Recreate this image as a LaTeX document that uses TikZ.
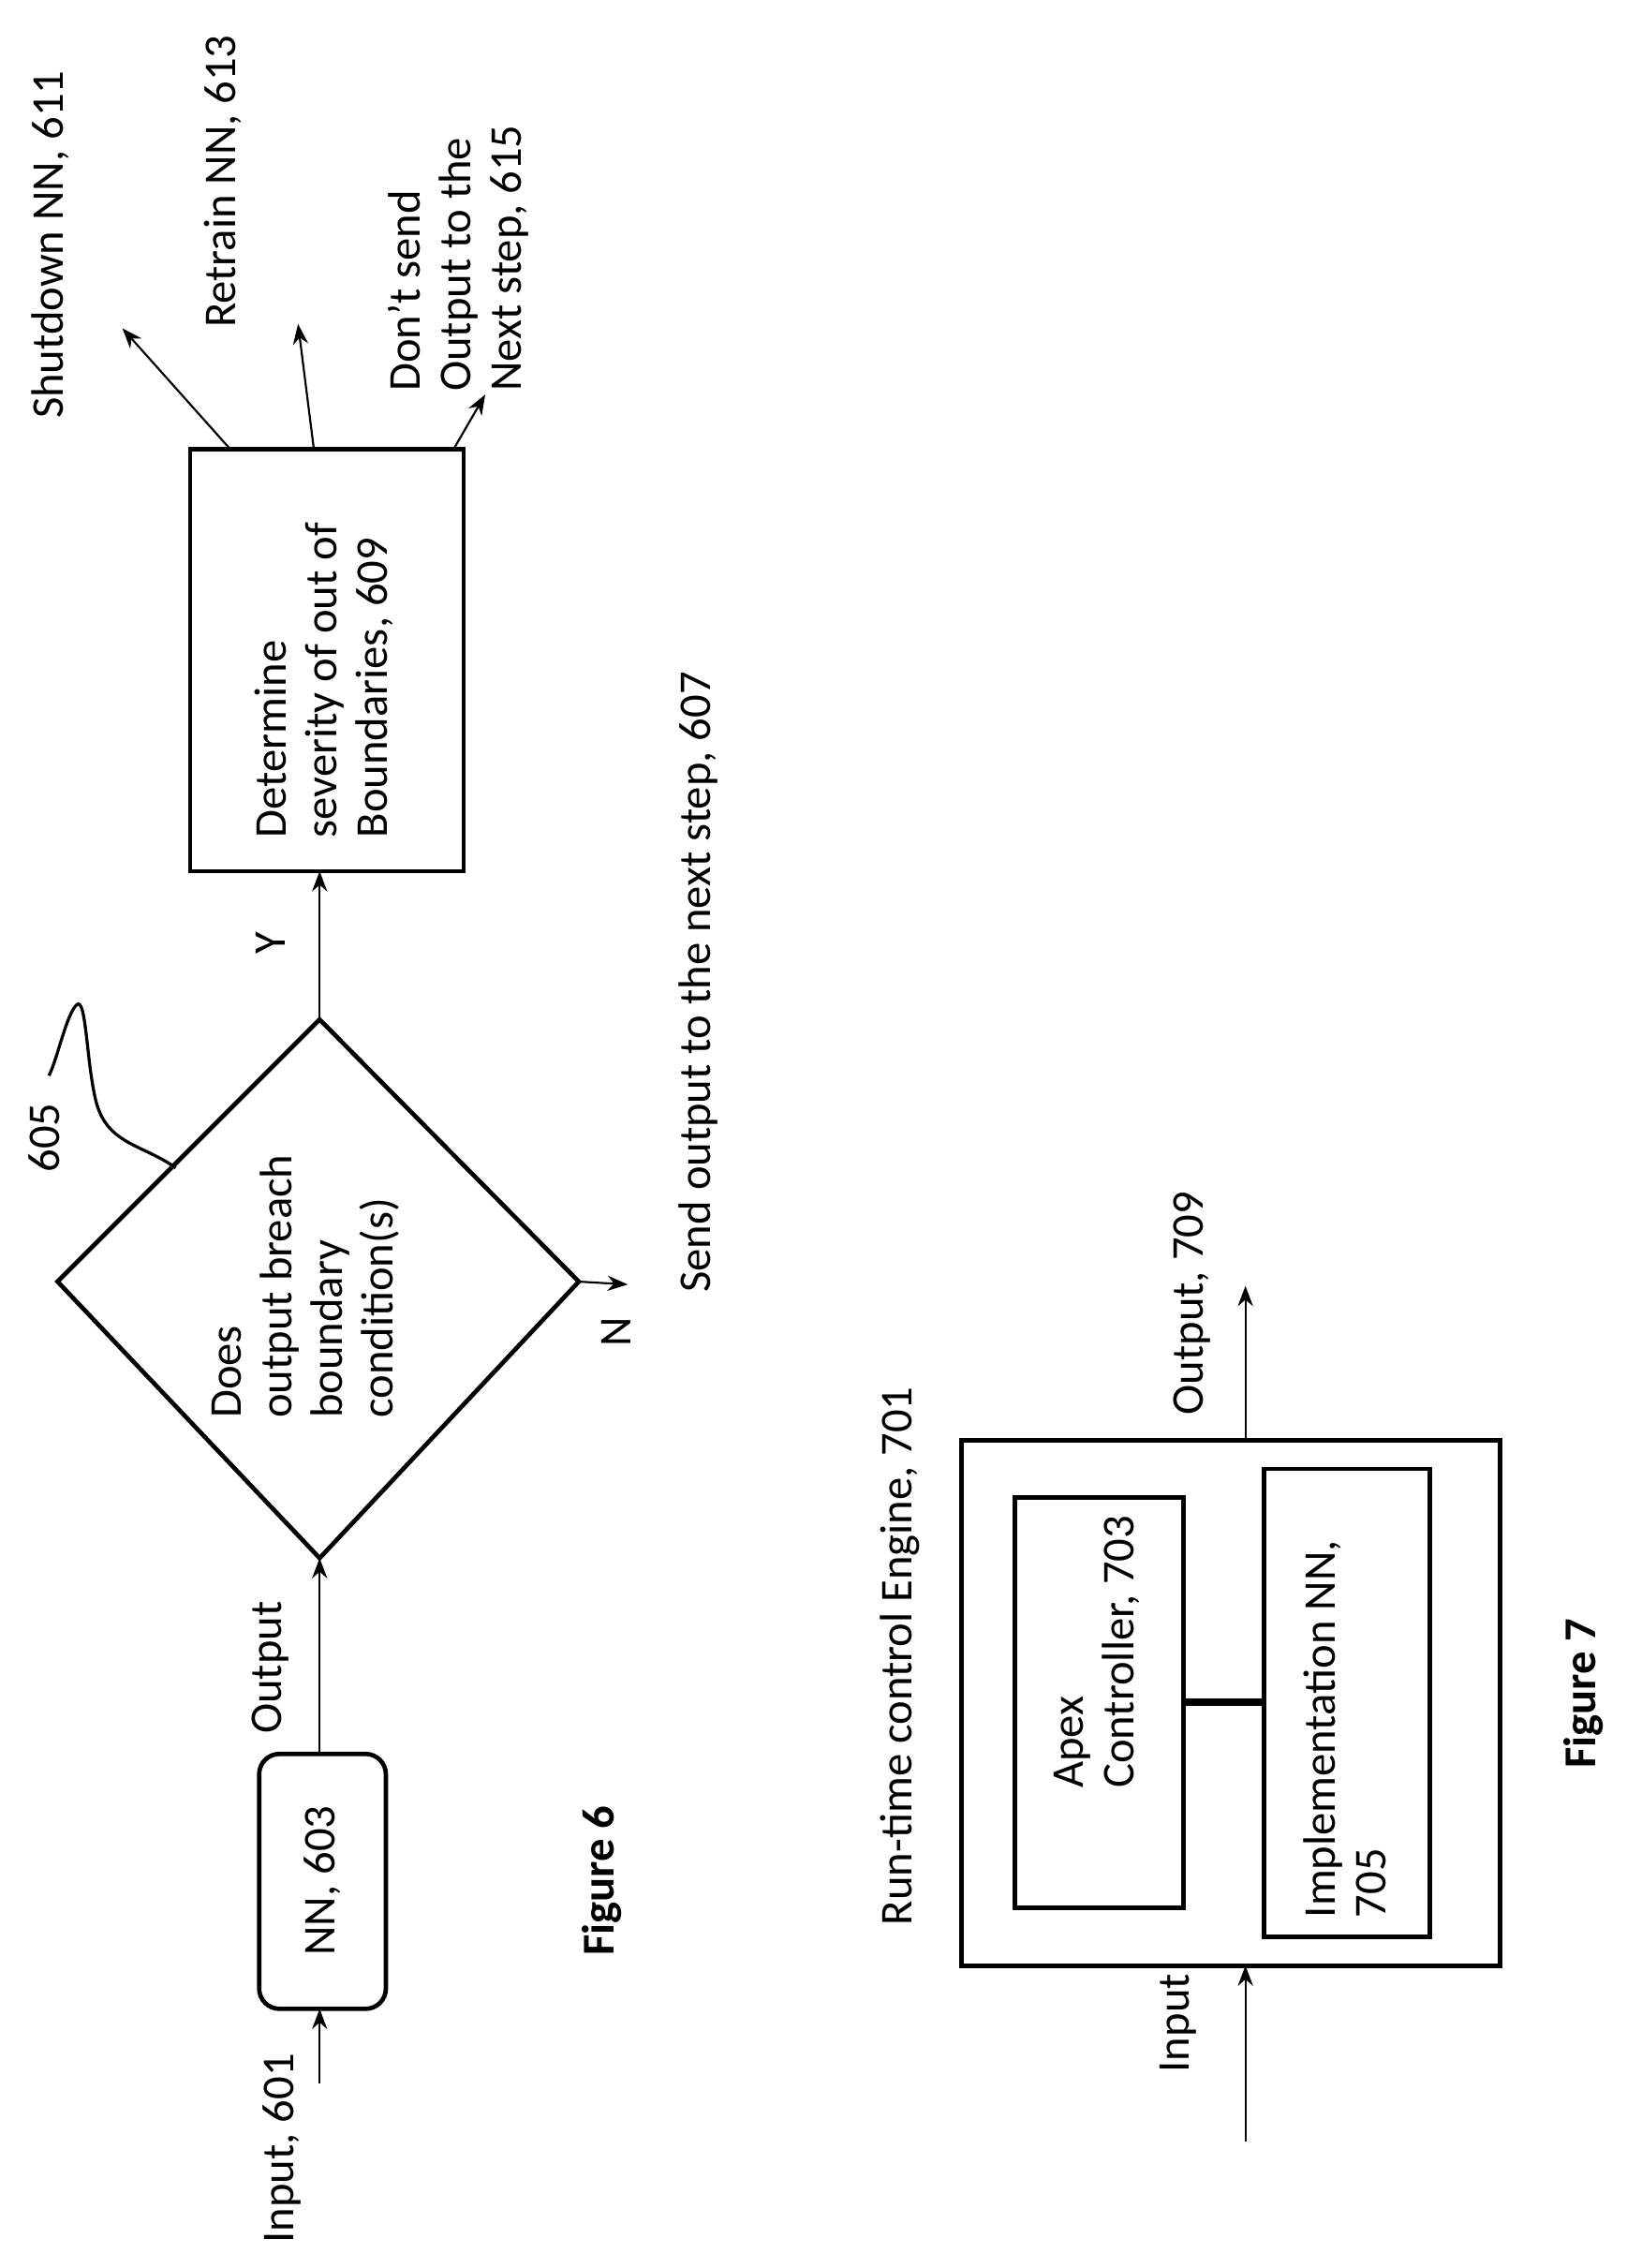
\documentclass[tikz,border=0pt]{standalone}
\usepackage{fontspec}
\setmainfont{Carlito}
\usetikzlibrary{shapes.geometric,arrows.meta}
\begin{document}
\begin{tikzpicture}[x=0.3mm,y=-0.3mm,
  every node/.style={font=\fontsize{27}{30}\selectfont},
  txt/.style={rotate=90,align=center,inner sep=0},
  ltxt/.style={rotate=90,align=left,inner sep=0,anchor=west},
  ln/.style={line width=1.2pt},
  box/.style={line width=2.6pt},
  arr/.style={ln,-{Stealth[length=12pt,width=9pt]}}]
\useasboundingbox (0,0) rectangle (1130,1575);
% Figure 6
\draw[box,rounded corners=12pt] (180,1218) rectangle (268,1395);
\node[txt] (nn) at (224,1306) {NN, 603};
\coordinate (nnb) at (222,1395); \coordinate (nnt) at (222,1218);
\coordinate (inS) at (222,1447);
\draw[arr] (inS) -- (nnb);
\node[txt] (inl) at (196,1492) {Input, 601};
\coordinate (dl) at (40,890); \coordinate (db) at (222,1082);
\coordinate (dr) at (402,890); \coordinate (dt) at (222,708);
\draw[box] (dl) -- (db) -- (dr) -- (dt) -- cycle;
\node[ltxt] (dtx) at (212,985) {Does\\output breach\\boundary\\condition(s)};
\draw[arr] (nnt) -- (db);
\node[txt] (outl) at (188,1158) {Output};
\draw[ln,line width=1.8pt] (122,811) .. controls (100,795) and (75,795) .. (67,766)
  .. controls (60,740) and (60,690) .. (53,698) .. controls (46,705) and (40,735) .. (34,747);
\node[txt] (l605) at (31,790) {605};
\draw[box] (132,312) rectangle (322,605);
\node[ltxt] (b609) at (225,582) {Determine\\severity of out of\\Boundaries, 609};
\draw[arr] (dt) -- (222,605);
\node[txt] (yl) at (188,655) {Y};
\draw[arr] (dr) -- (436,892);
\node[txt] (nl) at (428,925) {N};
\node[txt] (l607) at (485,682) {Send output to the next step, 607};
\draw[arr] (160,312) -- (85,228);
\node[txt] (l611) at (35,170) {Shutdown NN, 611};
\draw[arr] (218,312) -- (207,225);
\node[txt] (l613) at (155,126) {Retrain NN, 613};
\draw[arr] (315,312) -- (337,274);
\node[ltxt] (l615) at (318,272) {Don’t send\\Output to the\\Next step, 615};
\node[txt,font=\fontsize{27}{30}\selectfont\bfseries] (f6) at (418,1306) {Figure 6};
% Figure 7
\draw[box] (668,1000) rectangle (1042,1365);
\draw[box] (705,1040) rectangle (822,1325);
\node[ltxt] (apx) at (762,1242) {Apex\\Controller, 703};
\draw[box] (878,1020) rectangle (993,1345);
\node[ltxt] (imp) at (934,1332) {Implementation NN,\\705};
\draw[line width=4pt] (822,1182) -- (878,1182);
\draw[arr] (865,1487) -- (865,1365);
\node[txt] (inp) at (818,1405) {Input};
\draw[arr] (865,1000) -- (865,893);
\node[txt] (outp) at (828,905) {Output, 709};
\node[txt] (rt) at (625,1150) {Run-time control Engine, 701};
\node[txt,font=\fontsize{27}{30}\selectfont\bfseries] (f7) at (1100,1176) {Figure 7};
\end{tikzpicture}
\end{document}
